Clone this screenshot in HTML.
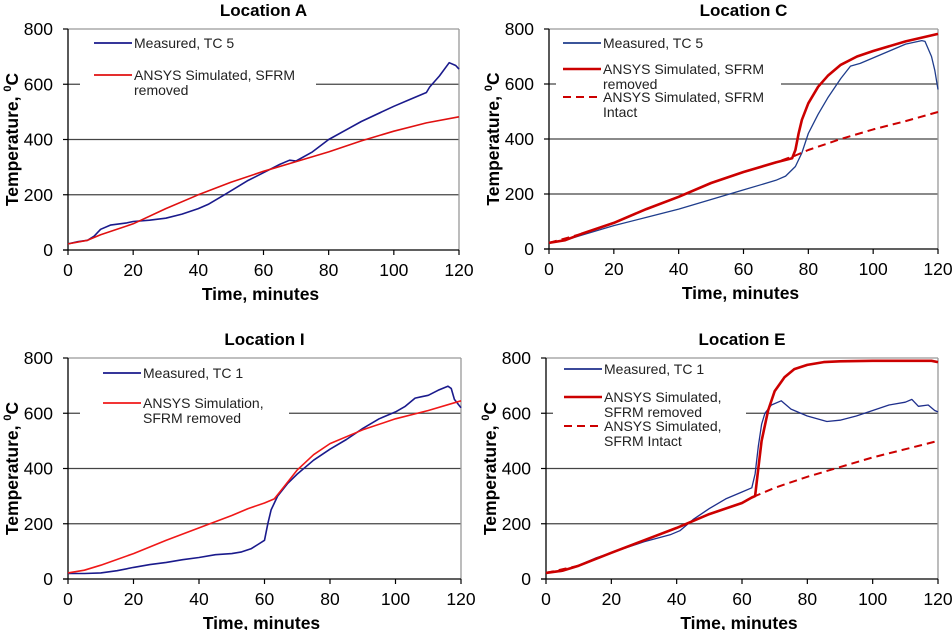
<!DOCTYPE html>
<html><head><meta charset="utf-8">
<style>
html,body{margin:0;padding:0;background:#fff;}
svg{display:block;font-family:"Liberation Sans",Arial,sans-serif;}
</style></head>
<body>
<svg id="chart" width="952" height="630" viewBox="0 0 952 630" xmlns="http://www.w3.org/2000/svg"></svg>
<script>
// ---- data ----
const yTicks = [0, 200, 400, 600, 800];
const xTicks = [0, 20, 40, 60, 80, 100, 120];

const aMeasT = [0,3,6,8,10,13,18,20,25,30,35,40,43,48,55,60,65,68,70,75,80,90,100,105,110,111,114,117,119,120];
const aMeasV = [22,30,35,50,75,90,98,103,108,115,130,150,165,200,250,280,310,325,322,355,400,465,520,545,570,590,630,678,668,655];
const aSimT = [0,6,10,20,30,40,50,60,70,80,90,100,110,120];
const aSimV = [22,35,55,95,150,200,245,285,320,355,395,430,460,482];

const cMeasT = [0,5,10,20,30,40,50,60,70,73,76,78,80,83,86,90,93,96,100,105,110,115,116,118,119,120];
const cMeasV = [22,32,50,85,115,145,180,215,250,265,300,350,420,490,550,620,665,675,695,720,745,758,755,700,650,580];
const cSimT = [0,5,10,20,30,40,50,60,70,75,76,77,78,80,83,86,90,95,100,110,120];
const cSimV = [22,32,55,95,145,190,240,280,315,330,360,420,470,530,590,630,670,700,720,755,782];
const cIntT = [0,10,20,30,40,50,60,70,76,80,90,100,110,120];
const cIntV = [22,55,95,145,190,240,280,315,340,360,400,435,465,498];

const iMeasT = [0,5,10,15,20,25,30,35,40,45,50,53,56,58,60,61,62,64,67,70,75,80,85,90,95,100,103,106,108,110,113,116,117,118,120];
const iMeasV = [20,20,22,30,42,52,60,70,78,88,92,98,110,125,140,200,250,300,345,380,430,470,505,545,580,605,625,655,660,665,683,698,690,650,620];
const iSimT = [0,5,10,20,30,40,50,55,60,63,65,68,70,75,80,90,100,110,120];
const iSimV = [22,32,50,92,140,185,230,255,275,290,320,365,395,450,490,540,580,610,645];

const eMeasT = [0,5,10,15,20,30,38,41,45,50,55,60,63,64,65,66,67,69,72,75,80,86,90,95,100,105,110,112,114,117,119,120];
const eMeasV = [22,28,50,75,95,135,160,175,215,255,290,315,330,380,480,560,600,630,645,615,590,570,575,590,610,630,640,650,625,630,610,605];
const eSimT = [0,5,10,20,30,40,50,60,63,64,65,66,68,70,73,76,80,85,90,100,110,118,120];
const eSimV = [22,30,48,95,140,185,235,275,295,300,400,500,610,680,730,760,775,785,788,790,790,790,785];
const eIntT = [0,10,20,30,40,50,60,63,70,80,90,100,110,120];
const eIntV = [22,48,95,140,185,235,275,295,330,370,405,440,470,500];

const NS = "http://www.w3.org/2000/svg";
const svg = document.getElementById('chart');
function mk(tag, attrs, parent){ const e=document.createElementNS(NS,tag); for(const k in attrs) e.setAttribute(k,attrs[k]); (parent||svg).appendChild(e); return e; }

function panel(p){
  const g = mk('g',{});
  
  
  const sx = v => p.x0 + (v/120)*(p.x1-p.x0);
  const sy = v => p.y0 - (v/800)*(p.y0-p.y1);
  yTicks.forEach(t=>{
    if(t===0) return;
    const l = mk('line',{x1:p.x0,x2:p.x1,y1:sy(t),y2:sy(t),stroke:t===800?'#999':'#444','stroke-width':1.3},g);
    
    
  });
  mk('line',{x1:p.x1,x2:p.x1,y1:p.y1,y2:p.y0,stroke:'#999','stroke-width':1.3},g);
  const lb = mk('rect',{x:p.lx,y:p.y1+2,width:p.lw,height:p.lh,fill:'#fff'},g);
  
  
  mk('line',{x1:p.x0,x2:p.x0,y1:p.y1,y2:p.y0+0.5,stroke:'#000','stroke-width':1.3},g);
  mk('line',{x1:p.x0-5,x2:p.x1,y1:p.y0,y2:p.y0,stroke:'#000','stroke-width':1.3},g);
  yTicks.forEach(t=>{
    mk('line',{x1:p.x0-5,x2:p.x0,y1:sy(t),y2:sy(t),stroke:'#000','stroke-width':1.2},g);
    const tx = mk('text',{x:p.x0-15,y:sy(t)+6,'text-anchor':'end','font-size':17.5,fill:'#000'},g);
    tx.textContent = t;
    
    
  });
  xTicks.forEach(t=>{
    mk('line',{x1:sx(t),x2:sx(t),y1:p.y0,y2:p.y0+5,stroke:'#000','stroke-width':1.2},g);
    const tx = mk('text',{x:sx(t),y:p.y0+26,'text-anchor':'middle','font-size':17.5,fill:'#000'},g);
    tx.textContent = t;
    
    
  });
  const tt = mk('text',{x:(p.x0+p.x1)/2,y:p.y1-13,'text-anchor':'middle','font-size':17,'font-weight':'bold'},g);
  tt.textContent = p.title;
  
  
  const xt = mk('text',{x:(p.x0+p.x1)/2-3,y:p.y0+50,'text-anchor':'middle','font-size':17.5,'font-weight':'bold'},g);
  xt.textContent = 'Time, minutes';
  
  
  const yt = mk('text',{transform:`translate(${p.x0-50},${(p.y0+p.y1)/2}) rotate(-90)`,'text-anchor':'middle','font-size':17.5,'font-weight':'bold'},g);
  yt.innerHTML = 'Temperature, <tspan font-size="11" dy="-7">0</tspan><tspan dy="7">C</tspan>';
  
  
  p.series.forEach((s,i)=>{
    const d = s.t.map((t,k)=>(k?'L':'M')+sx(t).toFixed(1)+','+sy(s.v[k]).toFixed(1)).join(' ');
    const path = mk('path',{d:d,fill:'none',stroke:s.color,'stroke-width':s.w,'stroke-dasharray':s.dash||'none','stroke-linejoin':'round'},g);
    
    
    const ly = p.y1 + s.ly;
    const le = mk('g',{},g);
    
    
    mk('line',{x1:p.lx+p.lpad,x2:p.lx+p.lpad+38,y1:ly,y2:ly,stroke:s.color,'stroke-width':Math.max(s.w,1.8),'stroke-dasharray':s.dash||'none'},le);
    s.label.forEach((ln,j)=>{
      const lt = mk('text',{x:p.lx+p.lpad+40,y:ly+5+j*15,'font-size':14,fill:'#222'},le);
      lt.textContent = ln;
    });
  });
}

const BLUE='#1a1a8c', RED='#e01010', DRED='#cc0000';
panel({id:'location-a',title:'Location A',x0:68,x1:459,y0:250,y1:29,lx:80,lw:236,lh:80,lpad:14,series:[
  {key:'measured',t:aMeasT,v:aMeasV,color:BLUE,w:1.6,ly:14,label:['Measured, TC 5']},
  {key:'simulated',t:aSimT,v:aSimV,color:RED,w:1.6,ly:46,label:['ANSYS Simulated, SFRM','removed']}
]});
panel({id:'location-c',title:'Location C',x0:549,x1:938,y0:249,y1:29,lx:556,lw:225,lh:93,lpad:7,series:[
  {key:'measured',t:cMeasT,v:cMeasV,color:'#1f3d8c',w:1.3,ly:14,label:['Measured, TC 5']},
  {key:'simulated-removed',t:cSimT,v:cSimV,color:DRED,w:2.6,ly:40,label:['ANSYS Simulated, SFRM','removed']},
  {key:'simulated-intact',t:cIntT,v:cIntV,color:DRED,w:2,dash:'8,5',ly:68,label:['ANSYS Simulated, SFRM','Intact']}
]});
panel({id:'location-i',title:'Location I',x0:68,x1:461,y0:579,y1:358,lx:80,lw:209,lh:80,lpad:23,series:[
  {key:'measured',t:iMeasT,v:iMeasV,color:BLUE,w:1.6,ly:15,label:['Measured, TC 1']},
  {key:'simulated',t:iSimT,v:iSimV,color:'#f01818',w:1.6,ly:45,label:['ANSYS Simulation,','SFRM removed']}
]});
panel({id:'location-e',title:'Location E',x0:546,x1:938,y0:579,y1:358,lx:553,lw:193,lh:92,lpad:11,series:[
  {key:'measured',t:eMeasT,v:eMeasV,color:'#1f2f8c',w:1.3,ly:11,label:['Measured, TC 1']},
  {key:'simulated-removed',t:eSimT,v:eSimV,color:DRED,w:2.6,ly:39,label:['ANSYS Simulated,','SFRM removed']},
  {key:'simulated-intact',t:eIntT,v:eIntV,color:DRED,w:2,dash:'8,5',ly:68,label:['ANSYS Simulated,','SFRM Intact']}
]});
</script>
</body></html>
